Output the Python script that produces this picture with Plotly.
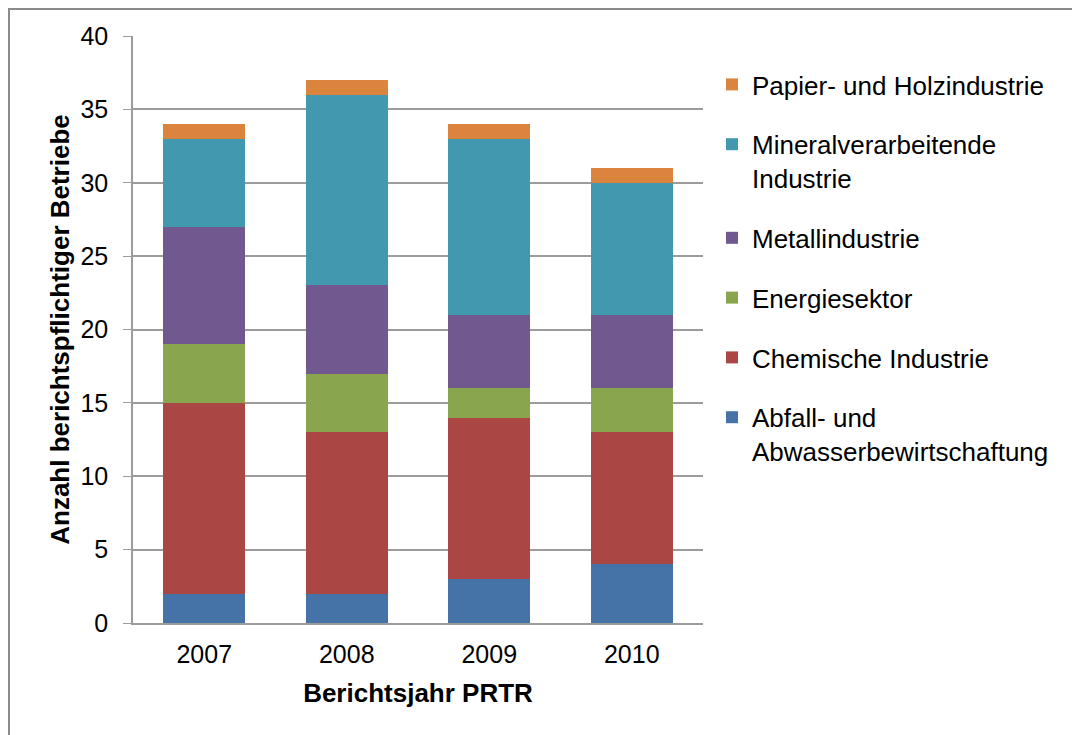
import plotly.graph_objects as go

years = ["2007", "2008", "2009", "2010"]

abfall = [2, 2, 3, 4]
chemie = [13, 11, 11, 9]
energie = [4, 4, 2, 3]
metall = [8, 6, 5, 5]
mineral = [6, 13, 12, 9]
papier = [1, 1, 1, 1]

series = [
    ("Abfall- und<br>Abwasserbewirtschaftung", abfall, "#4572A7"),
    ("Chemische Industrie", chemie, "#AA4643"),
    ("Energiesektor", energie, "#89A54E"),
    ("Metallindustrie", metall, "#71588F"),
    ("Mineralverarbeitende<br>Industrie", mineral, "#4198AF"),
    ("Papier- und Holzindustrie", papier, "#DB843D"),
]

fig = go.Figure()
for i, (name, vals, color) in enumerate(series):
    fig.add_trace(go.Bar(
        x=years, y=vals, name=name, legendgroup=name,
        legendrank=len(series) - i,
        marker=dict(color=color, line=dict(width=0)),
    ))

# page body has an 8px margin, so the figure is shifted by 8px; margins compensate
grid = "#9c9c9c"
fig.update_layout(
    barmode="stack",
    bargap=0.425,
    width=1080, height=735,
    margin=dict(l=125, r=385, t=28, b=120),
    paper_bgcolor="white", plot_bgcolor="white",
    font=dict(family="Liberation Sans, Arial", color="black", size=25),
    legend=dict(
        xref="container", yref="container",
        x=704 / 1080, y=1 - 53 / 735, xanchor="left", yanchor="top",
        tracegroupgap=23, valign="top", maxheight=700,
        font=dict(size=26),
    ),
    xaxis=dict(
        automargin=False,
        showline=True, linecolor=grid, linewidth=1.5,
        ticks="", tickfont=dict(size=25), ticklabelstandoff=8,
        title=dict(text="<b>Berichtsjahr PRTR</b>", font=dict(size=26), standoff=17),
    ),
    yaxis=dict(
        automargin=False,
        range=[0, 40], dtick=5,
        showgrid=True, gridcolor=grid, gridwidth=1.5,
        showline=True, linecolor=grid, linewidth=1.5,
        ticks="outside", ticklen=8, tickcolor=grid,
        tickfont=dict(size=25), ticklabelstandoff=10,
        zeroline=False,
        title=dict(text="<b>Anzahl berichtspflichtiger Betriebe</b>", font=dict(size=26), standoff=3),
    ),
    shapes=[dict(
        type="rect", xref="paper", yref="paper",
        x0=-124 / 570, x1=2.0, y0=-0.5, y1=1 + 27 / 587,
        line=dict(color="#8a8a8a", width=2), fillcolor="rgba(0,0,0,0)", layer="below",
    )],
)

fig.write_html("out.html")
